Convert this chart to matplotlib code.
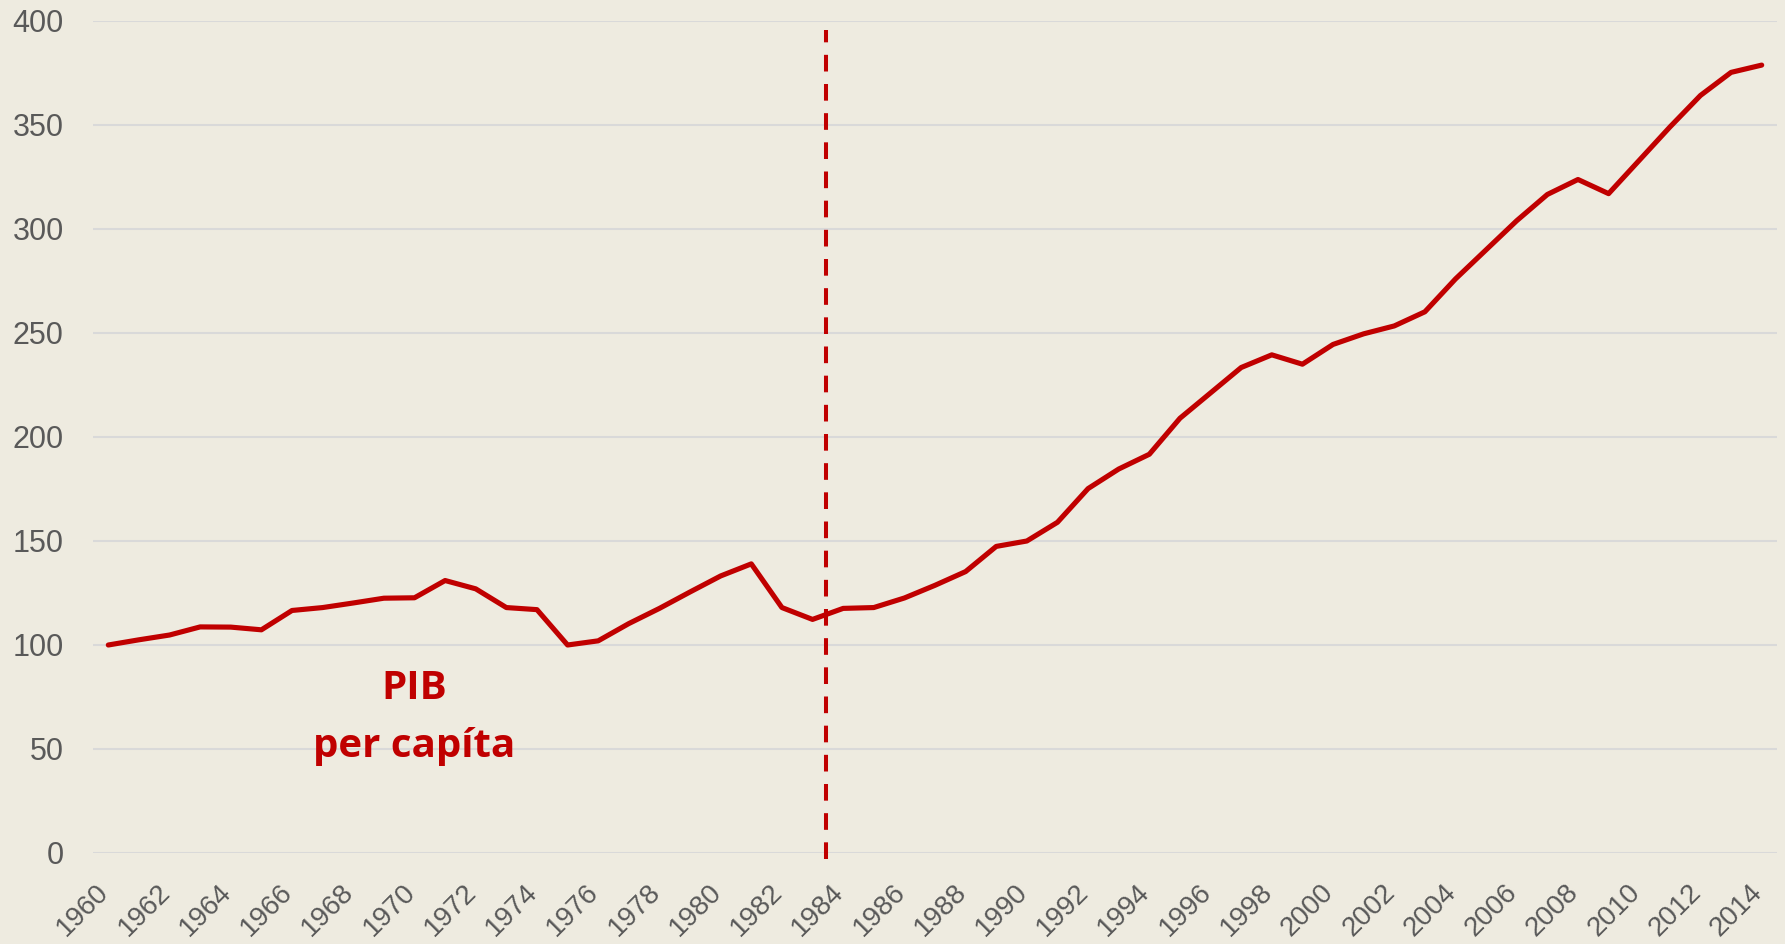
import matplotlib
matplotlib.use("Agg")
import matplotlib.pyplot as plt
from matplotlib.transforms import ScaledTranslation

years = list(range(1960, 2015))
gdp_pc = [100, 102.5, 104.8, 108.7, 108.6, 107.3, 116.6, 118.0, 120.2, 122.5,
          122.7, 131.0, 127.0, 118.0, 117.0, 100.0, 102.0, 110.3, 117.6, 125.5,
          133.2, 139.0, 118.0, 112.3, 117.6, 118.0, 122.6, 128.7, 135.3, 147.4,
          150.0, 159.0, 175.2, 184.6, 191.7, 209.0, 221.2, 233.4, 239.5, 235.0,
          244.5, 249.6, 253.4, 260.2, 276.0, 290.0, 304.0, 316.6, 323.8, 317.0,
          333.0, 349.0, 364.2, 375.3, 378.8]
tick_years = list(range(1960, 2015, 2))
y_ticks = list(range(0, 401, 50))
marker_year = 1983.43
label_lines = ["PIB", "per capíta"]

RED = "#C00000"
BG = "#EEEBE0"
GRID = "#D9D9D9"
TXT = "#595959"

plt.rcParams["lines.scale_dashes"] = False

fig = plt.figure(figsize=(17.85, 9.44), dpi=100, facecolor=BG)
ax = fig.add_axes([93/1785, 1 - 853/944, (1777 - 93)/1785, (853 - 21)/944])
ax.set_facecolor(BG)

ax.set_xlim(1959.5, 2014.5)
ax.set_ylim(0, 400)

for s in ax.spines.values():
    s.set_visible(False)

ax.set_yticks(y_ticks)
ax.set_yticklabels([str(v) for v in y_ticks], fontsize=22, color=TXT,
                   family=["Liberation Sans", "DejaVu Sans"])
ax.yaxis.grid(True, color=GRID, linewidth=1.5)
ax.set_axisbelow(True)
ax.tick_params(axis="y", length=0, pad=21)

ax.set_xticks(tick_years)
ax.set_xticklabels([str(y) for y in tick_years], rotation=45, ha="right", va="top",
                   fontsize=20, color=TXT, family=["Liberation Sans", "DejaVu Sans"])
ax.tick_params(axis="x", length=0, pad=19)
shift = ScaledTranslation(6/100, 0, fig.dpi_scale_trans)
for lab in ax.get_xticklabels():
    lab.set_transform(lab.get_transform() + shift)

ax.plot(years, gdp_pc, color=RED, linewidth=3.7, solid_joinstyle="round",
        solid_capstyle="round", zorder=3)

ax.plot([marker_year, marker_year], [-3, 395.6], color=RED, linewidth=2.9,
        dashes=(12, 9), dash_capstyle="butt", clip_on=False, zorder=4)

ax.text(1970.0, 73.8, label_lines[0], color=RED, fontsize=29, fontweight="bold",
        ha="center", va="baseline", family=["Open Sans", "DejaVu Sans"])
ax.text(1970.0, 46.0, label_lines[1], color=RED, fontsize=29, fontweight="bold",
        ha="center", va="baseline", family=["Open Sans", "DejaVu Sans"])

fig.savefig("out.png", dpi=100, facecolor=BG)
